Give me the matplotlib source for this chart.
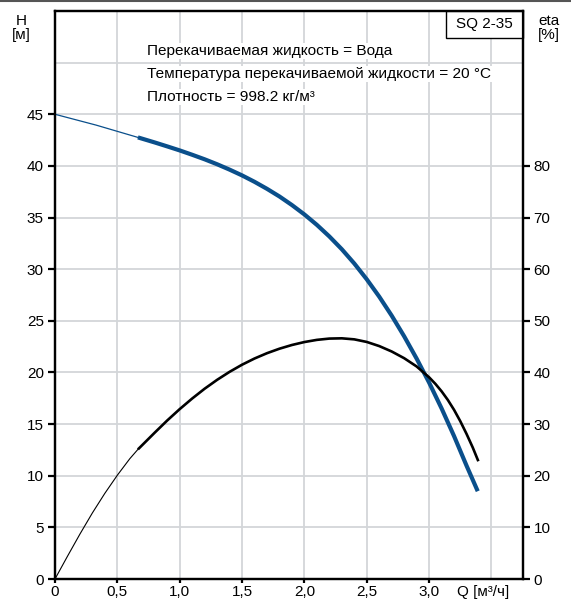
import numpy as np
import matplotlib
matplotlib.use("Agg")
import matplotlib.pyplot as plt
from matplotlib.lines import Line2D
from matplotlib.patches import Rectangle

plt.rcParams['font.family'] = ['Liberation Sans', 'DejaVu Sans']

# H curve (head)
q_h_thin = [0.0, 0.33, 0.665]
h_thin = [45.0, 43.95, 42.76]
q_h = [0.665, 0.8, 0.9, 1.0, 1.1, 1.2, 1.3, 1.4, 1.5, 1.6, 1.7, 1.8, 1.9, 2.0,
       2.1, 2.2, 2.3, 2.4, 2.5, 2.6, 2.7, 2.8, 2.9, 3.0, 3.1, 3.2, 3.3, 3.39]
h = [42.76, 42.27, 41.89, 41.5, 41.08, 40.64, 40.16, 39.64, 39.08, 38.46, 37.78, 37.04, 36.21, 35.3,
     34.29, 33.17, 31.93, 30.55, 29.02, 27.34, 25.5, 23.5, 21.34, 19.02, 16.52, 13.84, 10.98, 8.5]

# eta curve (efficiency, %)
q_e_thin = [0.0, 0.1, 0.2, 0.3, 0.4, 0.5, 0.6, 0.665]
eta_thin = [0.0, 4.4, 8.7, 12.8, 16.6, 20.1, 23.3, 25.1]
q_e = [0.665, 0.8, 0.9, 1.0, 1.1, 1.2, 1.3, 1.4, 1.5, 1.6, 1.7, 1.8, 1.9, 2.0,
       2.1, 2.2, 2.3, 2.4, 2.5, 2.6, 2.7, 2.8, 2.9, 3.0, 3.05, 3.1, 3.15, 3.2,
       3.25, 3.3, 3.35, 3.395]
eta = [25.1, 28.35, 30.7, 32.9, 34.95, 36.85, 38.57, 40.12, 41.5, 42.7, 43.73, 44.6, 45.32, 45.89,
       46.31, 46.56, 46.61, 46.41, 45.91, 45.11, 44.06, 42.76, 41.16, 39.06, 37.8, 36.35, 34.68, 32.76,
       30.56, 28.11, 25.46, 22.8]

x_ticks = [0, 0.5, 1.0, 1.5, 2.0, 2.5, 3.0]
x_labels = ['0', '0,5', '1,0', '1,5', '2,0', '2,5', '3,0']
h_ticks = [0, 5, 10, 15, 20, 25, 30, 35, 40, 45]
eta_ticks = [0, 10, 20, 30, 40, 50, 60, 70, 80]

info_lines = ["Перекачиваемая жидкость = Вода",
              "Температура перекачиваемой жидкости = 20 °C",
              "Плотность = 998.2 кг/м³"]

blue = '#0a4f8b'
grid_c = '#d3d6d9'

fig = plt.figure(figsize=(5.71, 6.01), dpi=100)
ax = fig.add_axes([0.0963, 0.0366, 0.8190, 0.9451])
ax.set_xlim(0, 3.75)
ax.set_ylim(0, 55)

# grid
for gx in np.arange(0.5, 3.75, 0.5):
    ax.axvline(gx, color=grid_c, lw=1.3, zorder=0)
for gy in np.arange(5, 55, 5):
    ax.axhline(gy, color=grid_c, lw=1.3, zorder=0)

ax.plot(q_h_thin, h_thin, color=blue, lw=0.9, zorder=3)
ax.plot(q_h, h, color=blue, lw=3.0, zorder=3, solid_capstyle='butt')

ax2 = ax.twinx()
ax2.set_ylim(0, 110)
ax2.plot(q_e_thin, eta_thin, color='black', lw=0.8, zorder=4)
ax2.plot(q_e, eta, color='black', lw=1.9, zorder=4, solid_capstyle='butt')

ax.set_xticks(x_ticks)
ax.set_xticklabels(x_labels)
ax.set_yticks(h_ticks)
ax2.set_yticks(eta_ticks)

for a in (ax, ax2):
    for s in a.spines.values():
        s.set_linewidth(1.6)
        s.set_color('black')
    a.tick_params(axis='y', direction='out', length=5, width=1.6, labelsize=11, pad=3)
ax.tick_params(axis='x', direction='out', length=3, width=1.6, labelsize=11, pad=1.5)

# labels
fig.text(0.037, 0.977, "H\n[м]", ha='center', va='top', fontsize=11, linespacing=1.0)
fig.text(0.942, 0.977, "eta\n[%]", ha='left', va='top', fontsize=11, linespacing=1.0)
ax.annotate("Q [м³/ч]", xy=(3.43, 0), xycoords=('data', 'axes fraction'),
            xytext=(0, -4.5), textcoords='offset points', ha='center', va='top', fontsize=11)

for i, line in enumerate(info_lines):
    ax.text(0.197, 0.930 - i * 0.0405, line, transform=ax.transAxes,
            fontsize=11.1, va='center', ha='left', zorder=5,
            bbox=dict(facecolor='white', edgecolor='none', pad=0.5))

ax.add_patch(Rectangle((0.836, 0.953), 0.164, 0.047, transform=ax.transAxes,
                       facecolor='white', edgecolor='black', lw=1.0, zorder=6, clip_on=False))
ax.text(0.918, 0.9765, "SQ 2-35", transform=ax.transAxes, ha='center', va='center',
        fontsize=11, zorder=7)

# top border of the figure
fig.add_artist(Line2D([0, 1], [0.998, 0.998], transform=fig.transFigure, color='#555555', lw=1.5))

fig.savefig("out.png", dpi=100)
